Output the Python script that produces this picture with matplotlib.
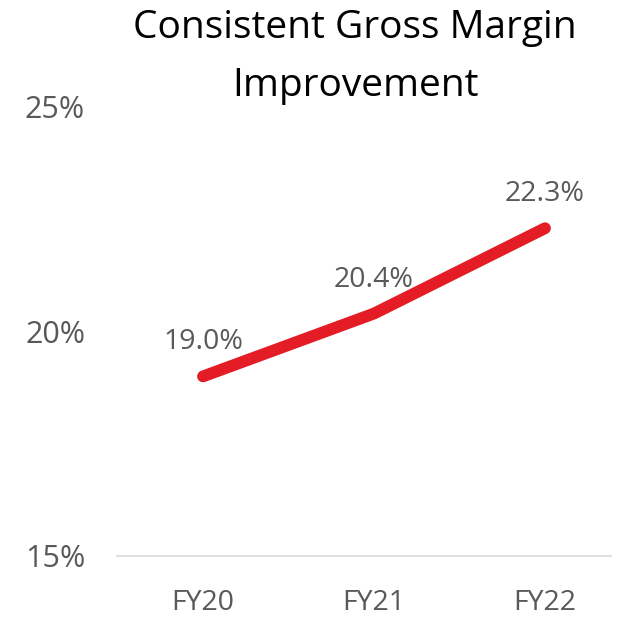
import matplotlib
matplotlib.use("Agg")
import matplotlib.pyplot as plt
from matplotlib.ticker import FuncFormatter

categories = ["FY20", "FY21", "FY22"]
gross_margin = [19.0, 20.4, 22.3]
y_ticks = [15, 20, 25]
title = "Consistent Gross Margin\nImprovement"

plt.rcParams['font.family'] = ['Open Sans', 'DejaVu Sans']

fig = plt.figure(figsize=(6.41, 6.18), dpi=100)
ax = fig.add_axes([117 / 641, 62 / 618, (611 - 117) / 641, (556 - 107) / 618])

x = list(range(len(categories)))
ax.plot(x, gross_margin, color="#E31C25", linewidth=8.5, solid_capstyle="round",
        solid_joinstyle="round")
for xi, v in zip(x, gross_margin):
    ax.annotate(f"{v:.1f}%", (xi, v), xytext=(0, 20), textcoords="offset pixels",
                ha="center", va="bottom", fontsize=20.5, color="#595959")

ax.set_ylim(15, 25)
ax.set_xlim(-86 / 171, 2 + 66 / 171)
ax.set_yticks(y_ticks)
ax.yaxis.set_major_formatter(FuncFormatter(lambda v, p: f"{v:.0f}%"))
ax.set_xticks(x)
ax.set_xticklabels(categories)
ax.tick_params(axis="both", length=0, labelcolor="#595959")
ax.tick_params(axis="y", pad=23, labelsize=22)
ax.tick_params(axis="x", pad=24, labelsize=20.5)
for s in ["top", "right", "left"]:
    ax.spines[s].set_visible(False)
ax.spines["bottom"].set_color("#D9D9D9")
ax.spines["bottom"].set_linewidth(1.2)

fig.text(355 / 641, 1 - 9 / 618, title, ha="center", va="top", fontsize=28,
         color="black", linespacing=1.7)

fig.savefig("out.png", dpi=100, facecolor="white")
